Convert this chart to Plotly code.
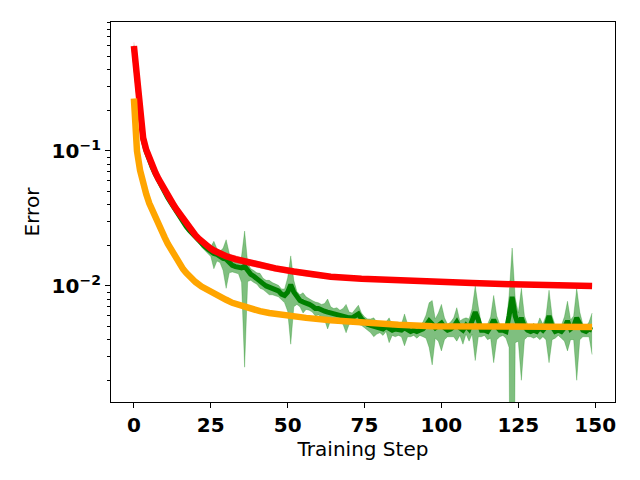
import plotly.graph_objects as go

# red run: sampled steps, mean and spread
red_steps = [0, 1, 2, 3, 4, 5, 6, 7, 8, 9, 10, 11, 12, 13, 14, 15, 16, 17, 18, 19, 20,
             21, 22, 23, 24, 25, 26, 28, 30, 33, 37, 41, 46, 52, 58, 64, 74, 85, 96,
             110, 123, 136, 149]
red_mean = [0.60, 0.34, 0.20, 0.125, 0.102, 0.088, 0.078, 0.069, 0.062, 0.056, 0.0505,
            0.0465, 0.043, 0.0395, 0.0365, 0.0338, 0.0313, 0.0290, 0.0270, 0.0253,
            0.0238, 0.0225, 0.0214, 0.0204, 0.0196, 0.0189, 0.0183, 0.0173, 0.0166,
            0.0158, 0.0150, 0.0143, 0.0135, 0.0128, 0.0121, 0.0117, 0.0113, 0.0110,
            0.0107, 0.0105, 0.0103, 0.0101, 0.0100]
red_std = [0.04, 0.015, 0.008, 0.004, 0.003, 0.0025, 0.002, 0.0018, 0.0016, 0.0015,
           0.0014, 0.0013, 0.0012, 0.0011, 0.0011, 0.0010, 0.0010, 0.0010, 0.0010,
           0.0010, 0.0010, 0.0010, 0.0010, 0.0010, 0.0010, 0.0010, 0.0010, 0.0009,
           0.0009, 0.0009, 0.0008, 0.0008, 0.0007, 0.0006, 0.0005, 0.0004, 0.0003,
           0.0003, 0.0003, 0.0002, 0.0002, 0.0002, 0.0002]

# orange run
orange_steps = [0, 1, 2, 3, 4, 5, 6, 7, 8, 9, 10, 11, 12, 13, 14, 15, 16, 17, 18, 19,
                20, 22, 24, 26, 28, 30, 32, 35, 38, 41, 44, 48, 56, 64, 75, 86, 97,
                110, 130, 149]
orange_mean = [0.245, 0.100, 0.072, 0.057, 0.048, 0.041, 0.036, 0.032, 0.0285, 0.0255,
               0.0229, 0.0206, 0.0187, 0.0170, 0.0156, 0.0144, 0.0133, 0.0125, 0.0118,
               0.0112, 0.0107, 0.0099, 0.0093, 0.0088, 0.0083, 0.0079, 0.0075, 0.0071,
               0.0068, 0.0065, 0.0063, 0.0061, 0.0058, 0.00556, 0.0053, 0.00515,
               0.00503, 0.0050, 0.00498, 0.00497]

# green run: every step 0..149
green_mean = [
    0.59, 0.33, 0.195, 0.121, 0.099, 0.085, 0.075, 0.067, 0.060, 0.054,
    0.049, 0.045, 0.0415, 0.038, 0.0355, 0.0325, 0.030, 0.0275, 0.0258, 0.0243,
    0.0231, 0.0219, 0.0205, 0.0196, 0.0188, 0.0180, 0.0174, 0.0171, 0.0165, 0.0160,
    0.0158, 0.0150, 0.0142, 0.0139, 0.0137, 0.0136, 0.0140, 0.0128, 0.0122, 0.0118,
    0.0114, 0.0110, 0.0104, 0.0100, 0.0098, 0.0096, 0.0094, 0.0092, 0.0087, 0.0085,
    0.0090, 0.0102, 0.0090, 0.0082, 0.0078, 0.0076, 0.0075, 0.0073, 0.0071, 0.0068,
    0.0068, 0.0066, 0.0065, 0.0064, 0.0063, 0.0062, 0.0061, 0.0060, 0.0060, 0.0059,
    0.0058, 0.0058, 0.0060, 0.0062, 0.0057, 0.0054, 0.0052, 0.0051, 0.0050, 0.0049,
    0.0049, 0.0048, 0.0050, 0.0048, 0.0047, 0.0048, 0.0047, 0.0047, 0.0049, 0.0047,
    0.0046, 0.0047, 0.0046, 0.0047, 0.0048, 0.0051, 0.0055, 0.0052, 0.0049, 0.0051,
    0.0053, 0.0049, 0.0047, 0.0048, 0.0050, 0.0054, 0.0049, 0.0047, 0.0051, 0.0048,
    0.0056, 0.0064, 0.0056, 0.0047, 0.0047, 0.0046, 0.0050, 0.0056, 0.0050, 0.0047,
    0.0047, 0.0046, 0.0060, 0.0083, 0.0060, 0.0051, 0.0058, 0.0050, 0.0047, 0.0046,
    0.0047, 0.0046, 0.0049, 0.0047, 0.0050, 0.0060, 0.0050, 0.0046, 0.0047, 0.0046,
    0.0049, 0.0055, 0.0048, 0.0050, 0.0058, 0.0052, 0.0047, 0.0046, 0.0048, 0.0047,
]
green_std = [
    0.02, 0.012, 0.007, 0.004, 0.003, 0.0026, 0.0022, 0.002, 0.0018, 0.0016,
    0.0015, 0.0014, 0.0013, 0.0012, 0.0011, 0.0011, 0.0010, 0.0010, 0.0010, 0.0010,
    0.0010, 0.0010, 0.0011, 0.0012, 0.0014, 0.0015, 0.0040, 0.0018, 0.0016, 0.0030,
    0.0062, 0.0025, 0.0015, 0.0014, 0.0014, 0.0030, 0.0115, 0.0020, 0.0012, 0.0012,
    0.0011, 0.0014, 0.0010, 0.0010, 0.0012, 0.0010, 0.0010, 0.0009, 0.0008, 0.0010,
    0.0025, 0.0065, 0.0020, 0.0009, 0.0008, 0.0013, 0.0008, 0.0007, 0.0007, 0.0008,
    0.0007, 0.0007, 0.0009, 0.0016, 0.0007, 0.0006, 0.0008, 0.0006, 0.0008, 0.0014,
    0.0006, 0.0005, 0.0007, 0.0010, 0.0006, 0.0005, 0.0005, 0.0006, 0.0008, 0.0005,
    0.0004, 0.0005, 0.0004, 0.0010, 0.0004, 0.0006, 0.0004, 0.0005, 0.0013, 0.0005,
    0.0004, 0.0004, 0.0005, 0.0004, 0.0006, 0.0010, 0.0020, 0.0026, 0.0008, 0.0012,
    0.0020, 0.0009, 0.0005, 0.0006, 0.0008, 0.0015, 0.0006, 0.0010, 0.0007, 0.0009,
    0.0012, 0.0036, 0.0014, 0.0005, 0.0004, 0.0006, 0.0009, 0.0029, 0.0010, 0.0005,
    0.0004, 0.0005, 0.0025, 0.0108, 0.0022, 0.0012, 0.0038, 0.0010, 0.0005, 0.0004,
    0.0006, 0.0004, 0.0009, 0.0005, 0.0010, 0.0033, 0.0010, 0.0005, 0.0004, 0.0005,
    0.0010, 0.0022, 0.0008, 0.0010, 0.0038, 0.0012, 0.0005, 0.0004, 0.0006, 0.0016,
]
green_steps = list(range(len(green_mean)))

x_ticks = [0, 25, 50, 75, 100, 125, 150]
y_ticks = [0.1, 0.01]
y_ticktext = ["10<sup>−1</sup>", "10<sup>−2</sup>"]
y_minor = [m * 10.0 ** e for e in (-3, -2, -1) for m in range(2, 10)]


def band(steps, mean, std, color):
    upper = [m + s for m, s in zip(mean, std)]
    # log axis: push non-positive lower bounds far below the visible range
    lower = [m - s if m - s > 0 else 1e-6 for m, s in zip(mean, std)]
    return [
        go.Scatter(x=steps, y=upper, mode="lines", line=dict(width=0.5, color=color),
                   hoverinfo="skip", showlegend=False),
        go.Scatter(x=steps, y=lower, mode="lines", line=dict(width=0.5, color=color),
                   fill="tonexty", fillcolor=color, hoverinfo="skip", showlegend=False),
    ]


fig = go.Figure()
for tr in band(green_steps, green_mean, green_std, "rgba(0,128,0,0.5)"):
    fig.add_trace(tr)
fig.add_trace(go.Scatter(x=green_steps, y=green_mean, mode="lines",
                         line=dict(color="#008000", width=5), showlegend=False))
for tr in band(red_steps, red_mean, red_std, "rgba(255,0,0,0.3)"):
    fig.add_trace(tr)
fig.add_trace(go.Scatter(x=red_steps, y=red_mean, mode="lines",
                         line=dict(color="#ff0000", width=6.5), showlegend=False))
fig.add_trace(go.Scatter(x=orange_steps, y=orange_mean, mode="lines",
                         line=dict(color="#ffa500", width=6.5), showlegend=False))

axis_common = dict(showline=True, linecolor="black", linewidth=1.1, mirror=True,
                   showgrid=False, zeroline=False, ticks="outside", ticklen=5,
                   tickwidth=1.1, tickcolor="black",
                   tickfont=dict(family="DejaVu Sans", size=20, color="black", weight="bold"),
                   title_font=dict(family="DejaVu Sans", size=20, color="black"))

# page body adds an 8px offset, so the margins are shifted to compensate
fig.update_layout(
    width=640, height=480,
    margin=dict(l=103, r=33, t=14, b=86),
    paper_bgcolor="white", plot_bgcolor="white",
    xaxis=dict(range=[-7.45, 156.45], tickvals=x_ticks,
               title=dict(text="Training Step", standoff=4), **axis_common),
    yaxis=dict(type="log", range=[-2.860, -0.0443], tickvals=y_ticks, ticktext=y_ticktext,
               minor=dict(tickvals=y_minor, ticks="outside", ticklen=3, tickwidth=0.8,
                          tickcolor="black"),
               title=dict(text="Error", standoff=6), **axis_common),
)

fig.write_html("out.html")
